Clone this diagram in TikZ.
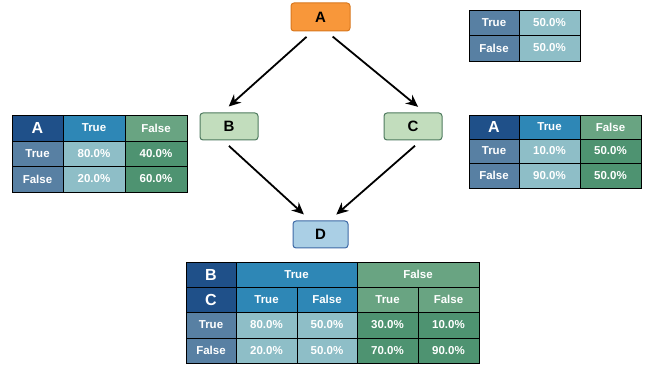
\documentclass[tikz,border=0pt]{standalone}
\usepackage{fontspec}
\setmainfont{Liberation Sans}
\usetikzlibrary{arrows.meta}

\definecolor{hdrdark}{HTML}{1F5089}
\definecolor{hdrblue}{HTML}{2E87B6}
\definecolor{hdrgreen}{HTML}{69A482}
\definecolor{rowlab}{HTML}{5880A3}
\definecolor{cellblue}{HTML}{8EBEC7}
\definecolor{cellgreen}{HTML}{4E9371}
\definecolor{orangefill}{HTML}{F8973A}
\definecolor{orangeline}{HTML}{D9781E}
\definecolor{greenfill}{HTML}{C2DDBD}
\definecolor{greenline}{HTML}{4E7A5F}
\definecolor{bluefill}{HTML}{AACFE5}
\definecolor{blueline}{HTML}{3D69A6}

\tikzset{
  var/.style={draw, rounded corners=3pt, line width=1pt, minimum width=58pt,
    minimum height=27pt, inner sep=0pt, font=\fontsize{15}{17}\selectfont\bfseries},
  tcell/.style={draw=black, line width=0.8pt, inner sep=0pt, text=white,
    font=\fontsize{11.5}{13}\selectfont\bfseries},
  thead/.style={tcell, font=\fontsize{16}{18}\selectfont\bfseries},
  arr/.style={-{Stealth[length=12pt,width=11pt]}, line width=1.8pt,
    shorten <=8pt, shorten >=9pt}
}

% one table cell: name, x1, y1, x2, y2, style, text
\newcommand{\tcell}[7]{%
  \node[#6, minimum width={(#4-#2)*1pt}, minimum height={(#5-#3)*1pt}]
    (#1) at ({(#2+#4)/2},{(#3+#5)/2}) {#7};}

\begin{document}
\begin{tikzpicture}[x=1pt,y=-1pt]
  \useasboundingbox (0,0) rectangle (646,366);

  % variables
  \node[var, fill=orangefill, draw=orangeline, minimum width=59pt, minimum height=28pt] (A) at (320.5,17) {A};
  \node[var, fill=greenfill, draw=greenline] (B) at (229,126.5) {B};
  \node[var, fill=greenfill, draw=greenline] (C) at (413,126.5) {C};
  \node[var, fill=bluefill, draw=blueline, minimum width=55pt] (D) at (320.5,234.5) {D};

  \draw[arr] ([xshift=-8pt]A.south) -- ([xshift=-7pt]B.north);
  \draw[arr] ([xshift=6pt]A.south) -- ([xshift=12pt]C.north);
  \draw[arr] ([xshift=-6pt]B.south) -- ([xshift=-10pt]D.north);
  \draw[arr] ([xshift=8pt]C.south) -- ([xshift=9pt]D.north);

  % P(A)
  \tcell{pa-t}{469}{10}{519}{35}{tcell, fill=rowlab}{True}
  \tcell{pa-tv}{519}{10}{580}{35}{tcell, fill=cellblue}{50.0\%}
  \tcell{pa-f}{469}{35}{519}{61}{tcell, fill=rowlab}{False}
  \tcell{pa-fv}{519}{35}{580}{61}{tcell, fill=cellblue}{50.0\%}

  % P(B|A)
  \tcell{pb-h}{12}{115}{63}{141}{thead, fill=hdrdark}{A}
  \tcell{pb-ht}{63}{115}{125}{141}{tcell, fill=hdrblue}{True}
  \tcell{pb-hf}{125}{115}{187}{141}{tcell, fill=hdrgreen}{False}
  \tcell{pb-t}{12}{141}{63}{166}{tcell, fill=rowlab}{True}
  \tcell{pb-tt}{63}{141}{125}{166}{tcell, fill=cellblue}{80.0\%}
  \tcell{pb-tf}{125}{141}{187}{166}{tcell, fill=cellgreen}{40.0\%}
  \tcell{pb-f}{12}{166}{63}{192}{tcell, fill=rowlab}{False}
  \tcell{pb-ft}{63}{166}{125}{192}{tcell, fill=cellblue}{20.0\%}
  \tcell{pb-ff}{125}{166}{187}{192}{tcell, fill=cellgreen}{60.0\%}

  % P(C|A)
  \tcell{pc-h}{469}{115}{519}{139}{thead, fill=hdrdark}{A}
  \tcell{pc-ht}{519}{115}{580}{139}{tcell, fill=hdrblue}{True}
  \tcell{pc-hf}{580}{115}{641}{139}{tcell, fill=hdrgreen}{False}
  \tcell{pc-t}{469}{139}{519}{163}{tcell, fill=rowlab}{True}
  \tcell{pc-tt}{519}{139}{580}{163}{tcell, fill=cellblue}{10.0\%}
  \tcell{pc-tf}{580}{139}{641}{163}{tcell, fill=cellgreen}{50.0\%}
  \tcell{pc-f}{469}{163}{519}{188}{tcell, fill=rowlab}{False}
  \tcell{pc-ft}{519}{163}{580}{188}{tcell, fill=cellblue}{90.0\%}
  \tcell{pc-ff}{580}{163}{641}{188}{tcell, fill=cellgreen}{50.0\%}

  % P(D|B,C)
  \tcell{pd-b}{186}{262}{236}{287}{thead, fill=hdrdark}{B}
  \tcell{pd-bt}{236}{262}{357}{287}{tcell, fill=hdrblue}{True}
  \tcell{pd-bf}{357}{262}{479}{287}{tcell, fill=hdrgreen}{False}
  \tcell{pd-c}{186}{287}{236}{312}{thead, fill=hdrdark}{C}
  \tcell{pd-ctt}{236}{287}{297}{312}{tcell, fill=hdrblue}{True}
  \tcell{pd-ctf}{297}{287}{357}{312}{tcell, fill=hdrblue}{False}
  \tcell{pd-cft}{357}{287}{418}{312}{tcell, fill=hdrgreen}{True}
  \tcell{pd-cff}{418}{287}{479}{312}{tcell, fill=hdrgreen}{False}
  \tcell{pd-t}{186}{312}{236}{338}{tcell, fill=rowlab}{True}
  \tcell{pd-t1}{236}{312}{297}{338}{tcell, fill=cellblue}{80.0\%}
  \tcell{pd-t2}{297}{312}{357}{338}{tcell, fill=cellblue}{50.0\%}
  \tcell{pd-t3}{357}{312}{418}{338}{tcell, fill=cellgreen}{30.0\%}
  \tcell{pd-t4}{418}{312}{479}{338}{tcell, fill=cellgreen}{10.0\%}
  \tcell{pd-f}{186}{338}{236}{363}{tcell, fill=rowlab}{False}
  \tcell{pd-f1}{236}{338}{297}{363}{tcell, fill=cellblue}{20.0\%}
  \tcell{pd-f2}{297}{338}{357}{363}{tcell, fill=cellblue}{50.0\%}
  \tcell{pd-f3}{357}{338}{418}{363}{tcell, fill=cellgreen}{70.0\%}
  \tcell{pd-f4}{418}{338}{479}{363}{tcell, fill=cellgreen}{90.0\%}
\end{tikzpicture}
\end{document}
